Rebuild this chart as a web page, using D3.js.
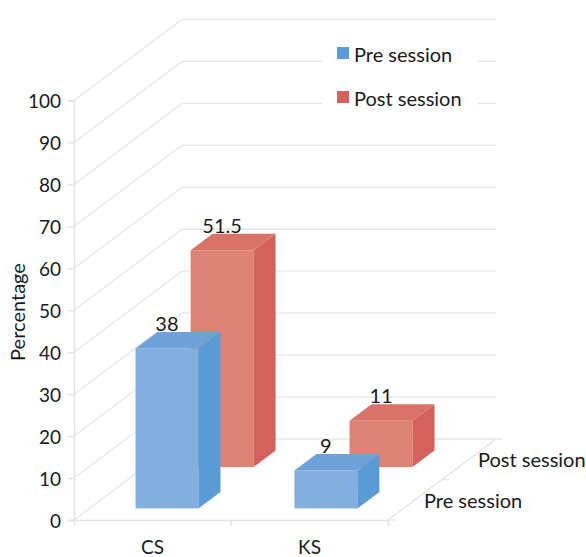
<!DOCTYPE html>
<html>
<head>
<meta charset="utf-8">
<script src="https://cdn.jsdelivr.net/npm/d3@7"></script>
<style>
body {margin: 0; background: #fff;}
text {font-family: Lato, sans-serif; fill: #1a1a1a; font-variant-numeric: lining-nums;}
.axis path, .axis line {stroke: #e3e3e3; stroke-width: 1.5;}
.axis text {font-family: Lato, sans-serif; font-size: 19px; fill: #1a1a1a;}
.grid {fill: none; stroke: #e6e6e6; stroke-width: 1.3;}
</style>
</head>
<body>
<div id="vis"></div>
<script>
const categories = ["CS", "KS"];
const series = ["Pre session", "Post session"];
const pre_values = [38, 9];
const post_values = [51.5, 11];
const y_ticks = [0, 10, 20, 30, 40, 50, 60, 70, 80, 90, 100];

const frame_width = 586;
const frame_height = 557;
const label_size = "20px";
const floor = {dx: 108, dy: -81};

const colors = {
    "Pre session": {front: "#85aee0", side: "#5b9bd5", top: "#6fa2d8"},
    "Post session": {front: "#dd8376", side: "#d2625b", top: "#d8736a"}
};

const frame = d3.select("#vis")
    .append("svg")
        .attr("width", frame_width)
        .attr("height", frame_height);

const y_scale = d3.scaleLinear().domain([0, 100]).range([520, 100.5]);
const bar_height = d3.scaleLinear().domain([0, 100]).range([0, 421]);
const x_axis_scale = d3.scaleBand().domain(categories).range([74, 388]);
const x_scale = d3.scaleBand()
    .domain(categories)
    .range([74, 388])
    .paddingInner(0.604)
    .paddingOuter(0.29)
    .align(0.5);
const depth_scale = d3.scaleBand()
    .domain(series)
    .range([0, 1])
    .paddingInner(0.6)
    .paddingOuter(0.28);
const depth_axis_scale = d3.scaleBand().domain(series).range([0, 1]);

// back wall, side wall and floor lines
y_ticks.forEach((t) => {
    const y = y_scale(t);
    frame.append("polyline")
        .attr("class", "grid")
        .attr("points", [[74, y], [74 + floor.dx, y + floor.dy], [388 + floor.dx, y + floor.dy]].join(" "));
});
frame.append("line")
    .attr("class", "grid")
    .attr("x1", 388).attr("y1", y_scale(0))
    .attr("x2", 388 + floor.dx).attr("y2", y_scale(0) + floor.dy);

// small ticks on the depth edge
[0, 0.5, 1].forEach((d) => {
    const px = 388 + d * floor.dx;
    const py = y_scale(0) + d * floor.dy;
    frame.append("line")
        .attr("class", "grid")
        .attr("x1", px).attr("y1", py)
        .attr("x2", px + 7).attr("y2", py);
});

const y_axis = frame.append("g")
    .attr("class", "axis")
    .attr("transform", "translate(74,0)")
    .call(d3.axisLeft(y_scale).tickValues(y_ticks).tickSize(6).tickPadding(7));
y_axis.selectAll("text").attr("dy", "0.38em");

frame.append("g")
    .attr("class", "axis")
    .attr("transform", "translate(0," + y_scale(0) + ")")
    .call(d3.axisBottom(x_axis_scale).tickSize(0).tickPadding(21).tickSizeOuter(6));

// inner category tick
frame.append("line")
    .attr("x1", x_axis_scale("KS")).attr("x2", x_axis_scale("KS"))
    .attr("y1", y_scale(0)).attr("y2", y_scale(0) + 6)
    .attr("stroke", "#e3e3e3").attr("stroke-width", 1.5);

frame.append("text")
    .attr("transform", "translate(25,312) rotate(-90)")
    .attr("text-anchor", "middle")
    .attr("font-size", label_size)
    .text("Percentage");

series.forEach((s) => {
    const d = depth_axis_scale(s) + depth_axis_scale.bandwidth() / 2;
    frame.append("text")
        .attr("x", 388 + d * floor.dx + 9)
        .attr("y", y_scale(0) + d * floor.dy + 8)
        .attr("font-size", label_size)
        .text(s);
});

// post session sits behind, so it goes first
const bar_rows = [
    {name: "Post session", values: post_values},
    {name: "Pre session", values: pre_values}
];

bar_rows.forEach((row) => {
    categories.forEach((c, i) => {
        const v = row.values[i];
        const start = depth_scale(row.name);
        const bar_w = x_scale.bandwidth();
        const side_x = depth_scale.bandwidth() * floor.dx;
        const side_y = depth_scale.bandwidth() * floor.dy;
        const x0 = x_scale(c) + start * floor.dx;
        const x1 = x0 + bar_w;
        const bottom = y_scale(0) + start * floor.dy;
        const top = bottom - bar_height(v);
        const col = colors[row.name];

        frame.append("rect")
            .attr("x", x0)
            .attr("y", top)
            .attr("width", bar_w)
            .attr("height", bottom - top)
            .attr("fill", col.front);

        frame.append("polygon")
            .attr("points", [[x1, top], [x1 + side_x, top + side_y], [x1 + side_x, bottom + side_y], [x1, bottom]].join(" "))
            .attr("fill", col.side);

        frame.append("polygon")
            .attr("points", [[x0, top], [x0 + side_x, top + side_y], [x1 + side_x, top + side_y], [x1, top]].join(" "))
            .attr("fill", col.top);

        // value sits just above the top face
        frame.append("text")
            .attr("x", x0 + bar_w / 2)
            .attr("y", top + side_y)
            .attr("dy", "-1px")
            .attr("text-anchor", "middle")
            .attr("font-size", label_size)
            .text(v);
    });
});

// legend on a white box, it hides the grid lines behind it
frame.append("rect")
    .attr("x", 322).attr("y", 35)
    .attr("width", 156).attr("height", 80)
    .attr("fill", "#fff");

series.forEach((s, i) => {
    frame.append("rect")
        .attr("x", 337).attr("y", 47 + i * 44)
        .attr("width", 12).attr("height", 12)
        .attr("fill", colors[s].side);
    frame.append("text")
        .attr("x", 354).attr("y", 62 + i * 44)
        .attr("font-size", label_size)
        .text(s);
});
</script>
</body>
</html>
